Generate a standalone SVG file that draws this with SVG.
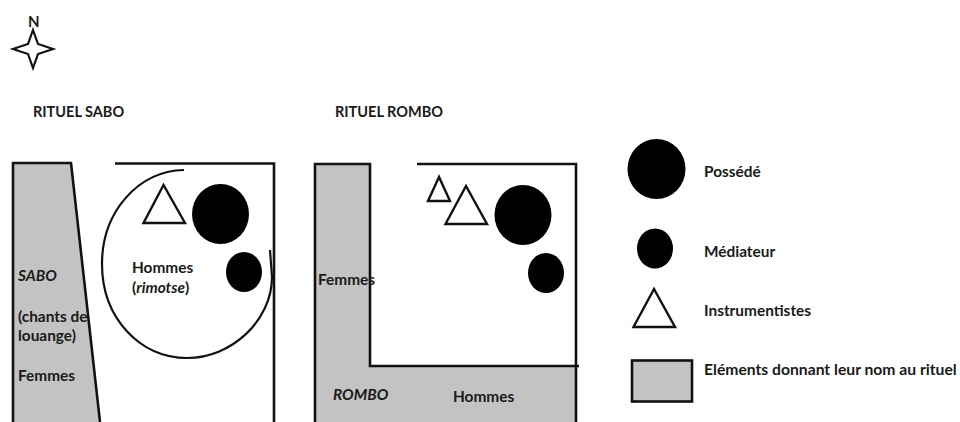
<svg xmlns="http://www.w3.org/2000/svg" width="960" height="422" viewBox="0 0 960 422">
<style>
text{font-family:Lato,"Liberation Sans",sans-serif;font-size:15.400px;font-weight:700;fill:#1a1a1a}
.h{font-size:14.500px}
.i{font-style:italic}
.g{fill:#c3c3c3;stroke:none}
.l{fill:none;stroke:#111;stroke-width:2.6}
.t{fill:#fff;stroke:#111;stroke-width:2.4}
.b{fill:#000}
</style>
<rect width="960" height="422" fill="#fff"/>
<g id="compass">
<path d="M33 30L38 44L53 49L38 54L33 68L28 54L13 49L28 44Z" fill="#fff" stroke="#111" stroke-width="2.200"/>
<text x="28" y="27" style="font-size:15px">N</text>
</g>
<g id="sabo">
<path class="g" d="M14 164H70L99 422H14Z"/>
<g id="connectors-sabo">
<path class="l" d="M13 422V163H71L100 422M115 163.500H274V422"/>
<path d="M184 170C138 171 102 212 102 264C102 318 140 358 187 358C232 358 272 320 272 277L270 250" fill="none" stroke="#111" stroke-width="2.200"/>
</g>
<path class="t" d="M163.500 185L143.500 223H185Z"/>
<ellipse class="b" cx="220.500" cy="214" rx="28.500" ry="30"/>
<ellipse class="b" cx="244" cy="272" rx="18" ry="20"/>
<text x="18" y="281" class="i">SABO</text>
<text x="18" y="322">(chants de</text>
<text x="18" y="341">louange)</text>
<text x="18" y="381">Femmes</text>
<text x="132" y="273">Hommes</text>
<text x="132" y="293">(<tspan class="i">rimotse</tspan>)</text>
<text x="33" y="117" class="h">RITUEL SABO</text>
</g>
<g id="rombo">
<path class="g" d="M316 165H369V367H575V422H316Z"/>
<g id="connectors-rombo">
<path class="l" d="M315 422V164H370V366H579M417 164H576V422"/>
</g>
<path class="t" d="M439 177L428 201H450Z"/>
<path class="t" d="M466 186L445.500 224H487Z"/>
<ellipse class="b" cx="523" cy="215" rx="28.500" ry="30"/>
<ellipse class="b" cx="546" cy="273" rx="18" ry="20"/>
<text x="318" y="285">Femmes</text>
<text x="333" y="400" class="i">ROMBO</text>
<text x="453" y="402">Hommes</text>
<text x="335" y="117" class="h">RITUEL ROMBO</text>
</g>
<g id="legend">
<ellipse class="b" cx="656.500" cy="169" rx="29" ry="30"/>
<ellipse class="b" cx="655" cy="248.500" rx="18" ry="20"/>
<path class="t" d="M654 289L633.500 327H675Z"/>
<rect x="632" y="360.500" width="60" height="41" fill="#c3c3c3" stroke="#111" stroke-width="2.600"/>
<text x="704" y="177">Possédé</text>
<text x="704" y="257">Médiateur</text>
<text x="704" y="316">Instrumentistes</text>
<text x="704" y="375" style="font-size:15.700px">Eléments donnant leur nom au rituel</text>
</g>
</svg>
